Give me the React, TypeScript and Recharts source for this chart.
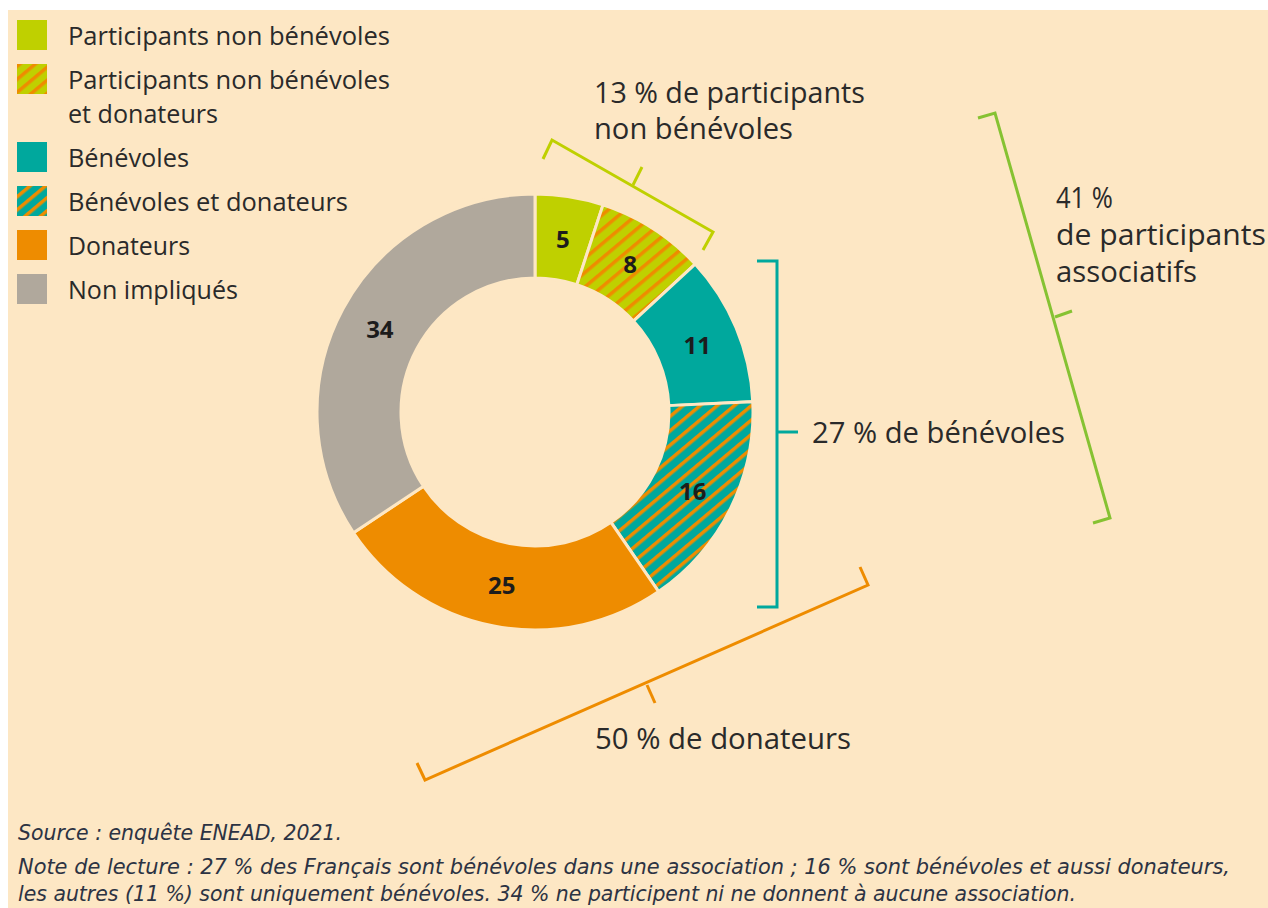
import { PieChart, Pie, Cell } from "recharts";

// parts of the French population (%) — enquête ENEAD 2021
const categories = [
  "Participants non bénévoles",
  "Participants non bénévoles et donateurs",
  "Bénévoles",
  "Bénévoles et donateurs",
  "Donateurs",
  "Non impliqués",
];
const shares = [5, 8, 11, 16, 25, 34];

const legendLines = [
  ["Participants non bénévoles"],
  ["Participants non bénévoles", "et donateurs"],
  ["Bénévoles"],
  ["Bénévoles et donateurs"],
  ["Donateurs"],
  ["Non impliqués"],
];
// measured text widths in the reference, to match the wider original face
const legendWidths = [[322], [322, 150], [121], [280], [122], [170]];

const sourceText = "Source : enquête ENEAD, 2021.";
const noteLines = [
  "Note de lecture : 27 % des Français sont bénévoles dans une association ; 16 % sont bénévoles et aussi donateurs,",
  "les autres (11 %) sont uniquement bénévoles. 34 % ne participent ni ne donnent à aucune association.",
];

const LIME = "#bfd000";
const TEAL = "#00a89d";
const ORANGE = "#ee8c00";
const GREY = "#b0a89c";
const GREEN = "#86c232";
const BG = "#fde7c4";
const INK = "#2a2a2a";

const fills = [LIME, "url(#hatchLime)", TEAL, "url(#hatchTeal)", ORANGE, GREY];

const data = categories.map((name, i) => ({ name, value: shares[i] }));

const FONT = "'Open Sans', sans-serif";
const RAD = Math.PI / 180;

function Hatch({ id, base, size = 11 }: { id: string; base: string; size?: number }) {
  return (
    <pattern
      id={id}
      patternUnits="userSpaceOnUse"
      width={size}
      height={size}
      patternTransform="rotate(50)"
    >
      <rect width={size} height={size} fill={base} />
      <rect width={3.5} height={size} fill={ORANGE} />
    </pattern>
  );
}

const renderLabel = (p: any) => {
  const r = (p.innerRadius + p.outerRadius) / 2;
  const x = p.cx + r * Math.cos(-p.midAngle * RAD);
  const y = p.cy + r * Math.sin(-p.midAngle * RAD);
  return (
    <text
      x={x}
      y={y}
      textAnchor="middle"
      dominantBaseline="central"
      fontFamily={FONT}
      fontWeight={700}
      fontSize={24}
      fill="#1c1c1c"
    >
      {p.value}
    </text>
  );
};

// bracket: main segment + end ticks + middle tick
function Bracket({ pts, color }: { pts: number[][]; color: string }) {
  return (
    <g stroke={color} strokeWidth={3} fill="none" strokeLinejoin="miter">
      <polyline points={pts.slice(0, 4).map((q) => q.join(",")).join(" ")} />
      <line x1={pts[4][0]} y1={pts[4][1]} x2={pts[5][0]} y2={pts[5][1]} />
    </g>
  );
}

function Note({ x, y, w, children }: { x: number; y: number; w: number; children: string }) {
  return (
    <text x={x} y={y} textLength={w} lengthAdjust="spacingAndGlyphs">
      {children}
    </text>
  );
}

export default function App() {
  const legendRows = [35, 79, 157, 201, 245, 289];
  return (
    <div
      style={{
        position: "absolute",
        left: 0,
        top: 0,
        width: 1268,
        height: 908,
        background: "#fff",
        overflow: "hidden",
      }}
    >
      <div
        style={{
          position: "absolute",
          left: 8,
          top: 10,
          width: 1260,
          height: 898,
          background: BG,
        }}
      />
      <div style={{ position: "absolute", left: 0, top: 0 }}>
        <PieChart width={1268} height={908} margin={{ top: 0, right: 0, bottom: 0, left: 0 }}>
          <defs>
            <Hatch id="hatchLime" base={LIME} />
            <Hatch id="hatchTeal" base={TEAL} />
          </defs>
          <Pie
            data={data}
            dataKey="value"
            cx={535}
            cy={412}
            innerRadius={134}
            outerRadius={218}
            startAngle={90}
            endAngle={-270}
            stroke={BG}
            strokeWidth={3}
            label={renderLabel}
            labelLine={false}
            isAnimationActive={false}
          >
            {data.map((d, i) => (
              <Cell key={d.name} fill={fills[i]} />
            ))}
          </Pie>
        </PieChart>
      </div>

      <svg
        width={1268}
        height={908}
        style={{ position: "absolute", left: 0, top: 0, pointerEvents: "none" }}
      >
        <defs>
          <Hatch id="hatchLimeL" base={LIME} size={10} />
          <Hatch id="hatchTealL" base={TEAL} size={10} />
        </defs>

        {/* legend */}
        {legendLines.map((lines, i) => (
          <g key={i}>
            <rect
              x={17}
              y={legendRows[i] - 15}
              width={30}
              height={30}
              fill={fills[i].replace(")", "L)")}
            />
            {lines.map((t, j) => (
              <text
                key={j}
                x={68}
                y={legendRows[i] + j * 34}
                dominantBaseline="central"
                fontFamily={FONT}
                fontSize={25}
                fill={INK}
                textLength={legendWidths[i][j]}
                lengthAdjust="spacingAndGlyphs"
              >
                {t}
              </text>
            ))}
          </g>
        ))}

        {/* brackets */}
        <Bracket
          color={LIME}
          pts={[
            [543, 159],
            [552, 140],
            [713, 232],
            [703, 250],
            [633, 185],
            [642, 167],
          ]}
        />
        <Bracket
          color={TEAL}
          pts={[
            [757, 261],
            [777, 261],
            [777, 607],
            [757, 607],
            [777, 432],
            [798, 432],
          ]}
        />
        <Bracket
          color={GREEN}
          pts={[
            [978, 118],
            [995, 113],
            [1110, 518],
            [1093, 523],
            [1055, 317],
            [1072, 311],
          ]}
        />
        <Bracket
          color={ORANGE}
          pts={[
            [417, 763],
            [425, 780],
            [868, 585],
            [860, 567],
            [647, 685],
            [655, 703],
          ]}
        />

        {/* annotations */}
        <g fontFamily={FONT} fontSize={28.5} fill={INK} dominantBaseline="central">
          <Note x={594} y={92} w={271}>13 % de participants</Note>
          <Note x={594} y={128} w={199}>non bénévoles</Note>
          <Note x={1056} y={197} w={57}>41 %</Note>
          <Note x={1056} y={234} w={210}>de participants</Note>
          <Note x={1056} y={271} w={141}>associatifs</Note>
          <Note x={812} y={432} w={253}>27 % de bénévoles</Note>
          <Note x={595} y={738} w={256}>50 % de donateurs</Note>
        </g>

        {/* footer */}
        <g
          fontFamily="'Liberation Sans Narrow', 'DejaVu Sans Condensed', sans-serif"
          fontStyle="italic"
          fontSize={22}
          fill="#2c3343"
          dominantBaseline="central"
        >
          <text x={18} y={832} textLength={324} lengthAdjust="spacingAndGlyphs">
            {sourceText}
          </text>
          <text x={18} y={866} textLength={1212} lengthAdjust="spacingAndGlyphs">
            {noteLines[0]}
          </text>
          <text x={18} y={893} textLength={1058} lengthAdjust="spacingAndGlyphs">
            {noteLines[1]}
          </text>
        </g>
      </svg>
    </div>
  );
}
